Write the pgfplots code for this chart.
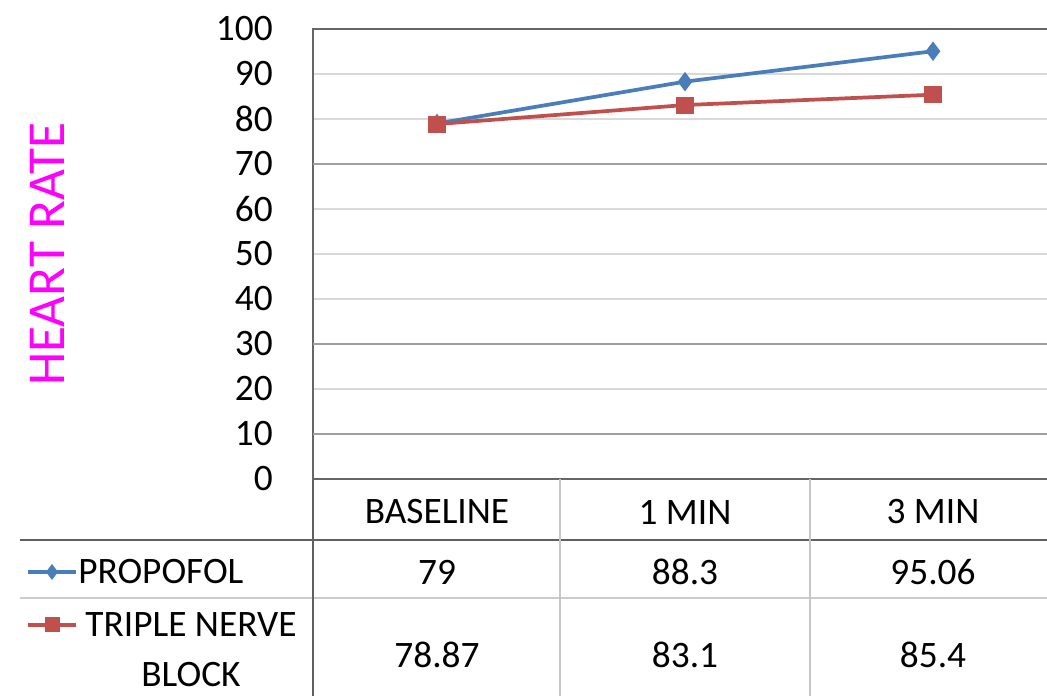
\documentclass[border=0pt]{standalone}
\usepackage{pgfplots}
\pgfplotsset{compat=1.18}
\usepackage{fontspec}
\setmainfont{Carlito}
\definecolor{pblue}{RGB}{74,126,187}
\definecolor{pred}{RGB}{192,80,77}
\definecolor{hrmag}{RGB}{255,0,255}
\newcommand\tabfont{\fontsize{28}{37.5}\selectfont}
\begin{document}
\begin{tikzpicture}[x=0.75pt,y=0.75pt]
\coordinate (O) at (313,217);
\begin{axis}[
  at={(O)}, anchor=south west, scale only axis,
  width=558pt, height=337.5pt,
  xmin=-0.5, xmax=2.5, ymin=0, ymax=100,
  xtick=\empty, ytick={0,10,...,100},
  ymajorgrids, grid style={gray!30, line width=1pt},
  major tick length=0pt,
  axis line style={gray!80!black, line width=1.6pt},
  yticklabel style={font=\tabfont, xshift=-30pt, inner sep=0pt},
  extra y ticks={10,30,70}, extra y tick labels={},
  extra y tick style={major grid style={gray!75, line width=1.8pt}},
  /pgf/number format/assume math mode=true,
]
\addplot[pblue, line width=2.8pt, mark=diamond*, mark size=5pt] coordinates {(0,79) (1,88.3) (2,95.06)};
\addplot[pred, line width=2.8pt, mark=square*, mark size=5pt] coordinates {(0,78.87) (1,83.1) (2,85.4)};
\end{axis}
% y label
\node[rotate=90, text=hrmag, font=\fontsize{40}{40}\selectfont] at (47,442) {HEART RATE};
% data table grid
\draw[gray!75!black, line width=2pt] (20,156) -- (1047,156);
\draw[gray!40, line width=1.5pt] (20,98) -- (1047,98);
\draw[gray!75!black, line width=1.6pt] (313,217) -- (313,0);
\draw[gray!45, line width=1.2pt] (560,217) -- (560,0);
\draw[gray!45, line width=1.2pt] (810,217) -- (810,0);
% header
\node[font=\tabfont] at (437,184) {BASELINE};
\node[font=\tabfont] at (685,184) {1 MIN};
\node[font=\tabfont] at (933,184) {3 MIN};
% row 1
\draw[pblue, line width=2.8pt] (28,124) -- (76,124);
\fill[pblue] (52,132) -- (58,124) -- (52,116) -- (46,124) -- cycle;
\node[font=\tabfont, anchor=west, inner sep=0pt] at (78,124) {PROPOFOL};
\node[font=\tabfont] at (437,124) {79};
\node[font=\tabfont] at (685,124) {88.3};
\node[font=\tabfont] at (933,124) {95.06};
% row 2
\draw[pred, line width=2.8pt] (28,71) -- (76,71);
\fill[pred] (44.5,63.5) rectangle (59.5,78.5);
\node[font=\tabfont, align=center] at (191,46) {TRIPLE NERVE\\BLOCK};
\node[font=\tabfont] at (437,41) {78.87};
\node[font=\tabfont] at (685,41) {83.1};
\node[font=\tabfont] at (933,41) {85.4};
\pgfresetboundingbox
\useasboundingbox (0,0) rectangle (1047,696);
\end{tikzpicture}
\end{document}
